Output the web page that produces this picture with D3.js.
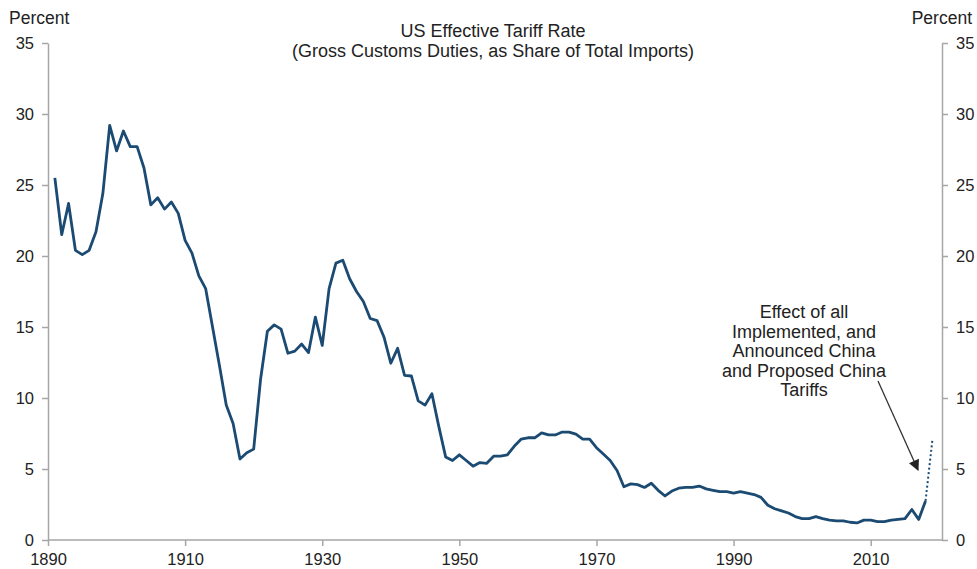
<!DOCTYPE html>
<html lang="en">
<head>
<meta charset="utf-8">
<title>US Effective Tariff Rate</title>
<script src="https://cdn.jsdelivr.net/npm/d3@7"></script>
<style>
  body { margin: 0; background: #fff; }
  text { font-family: "Liberation Sans", Arial, sans-serif; fill: #222; }
  .axis path, .axis line { stroke: #a6a6a6; stroke-width: 1.5; }
  .axis text { font-size: 16.5px; fill: #222; font-family: "Liberation Sans", Arial, sans-serif; }
</style>
</head>
<body>
<script>
// annual values, 1891-2018
var startYear = 1891;
var tariff = [
  25.5, 21.5, 23.7, 20.4, 20.1, 20.4, 21.7, 24.4, 29.2, 27.4,
  28.8, 27.7, 27.7, 26.2, 23.6, 24.1, 23.3, 23.8, 23.0, 21.1,
  20.2, 18.6, 17.7, 15.0, 12.3, 9.5, 8.2, 5.7, 6.15, 6.4,
  11.3, 14.7, 15.15, 14.85, 13.15, 13.3, 13.8, 13.2, 15.7, 13.7,
  17.7, 19.5, 19.7, 18.4, 17.5, 16.8, 15.6, 15.45, 14.3, 12.45,
  13.5, 11.6, 11.55, 9.8, 9.5, 10.3, 8.0, 5.85, 5.6, 6.0,
  5.6, 5.2, 5.45, 5.4, 5.9, 5.9, 6.0, 6.6, 7.1, 7.2,
  7.2, 7.55, 7.4, 7.4, 7.6, 7.6, 7.45, 7.1, 7.1, 6.5,
  6.05, 5.6, 4.9, 3.75, 3.95, 3.9, 3.7, 4.0, 3.5, 3.1,
  3.45, 3.65, 3.7, 3.7, 3.8, 3.6, 3.5, 3.4, 3.4, 3.3,
  3.4, 3.3, 3.2, 3.0, 2.45, 2.2, 2.05, 1.9, 1.65, 1.5,
  1.5, 1.65, 1.5, 1.4, 1.35, 1.35, 1.25, 1.2, 1.4, 1.4,
  1.3, 1.3, 1.4, 1.45, 1.5, 2.15, 1.45, 2.75
];
// projected effect of China tariffs (dotted)
var projYears = [2018, 2019];
var projValues = [2.75, 7.05];

var xTicks = [1890, 1910, 1930, 1950, 1970, 1990, 2010];
var yTicks = [0, 5, 10, 15, 20, 25, 30, 35];
var titleLines = ["US Effective Tariff Rate", "(Gross Customs Duties, as Share of Total Imports)"];
var noteLines = ["Effect of all", "Implemented, and", "Announced China", "and Proposed China", "Tariffs"];

var w = 977, h = 569;
// plot edges (avoid "top", which is a window property)
var pLeft = 48, pRight = 942, pTop = 43, pBottom = 540;

var series = tariff.map(function(v, i) { return { year: startYear + i, value: v }; });
var proj = projYears.map(function(yr, i) { return { year: yr, value: projValues[i] }; });

var x = d3.scaleLinear().domain([1890, 2020.4]).range([pLeft, pRight]);
var y = d3.scaleLinear().domain([0, 35]).range([pBottom, pTop]);

var svg = d3.select("body").append("svg")
  .attr("width", w)
  .attr("height", h);

// axes
svg.append("g").attr("class", "axis")
  .attr("transform", "translate(" + pLeft + ",0)")
  .call(d3.axisLeft(y).tickValues(yTicks).tickSize(6).tickSizeOuter(0).tickPadding(8));
svg.append("g").attr("class", "axis")
  .attr("transform", "translate(" + pRight + ",0)")
  .call(d3.axisRight(y).tickValues(yTicks).tickSize(6).tickSizeOuter(0).tickPadding(8));
var xAxis = svg.append("g").attr("class", "axis")
  .attr("transform", "translate(0," + pBottom + ")")
  .call(d3.axisBottom(x).tickValues(xTicks).tickFormat(d3.format("d")).tickSize(6).tickSizeOuter(0).tickPadding(7));
xAxis.select(".domain").attr("d", "M" + pLeft + ",0H" + pRight);

// unit labels
svg.append("text").attr("x", 9).attr("y", 24).style("font-size", "17.5px").text("Percent");
svg.append("text").attr("x", 972).attr("y", 24).attr("text-anchor", "end").style("font-size", "17.5px").text("Percent");

// title
svg.selectAll(".title")
  .data(titleLines)
  .enter()
  .append("text")
  .attr("class", "title")
  .attr("x", 493)
  .attr("y", function(d, i) { return 37 + i * 20; })
  .attr("text-anchor", "middle")
  .style("font-size", "18px")
  .text(function(d) { return d; });

var line = d3.line()
  .x(function(d) { return x(d.year); })
  .y(function(d) { return y(d.value); });

svg.append("path")
  .datum(series)
  .attr("d", line)
  .attr("fill", "none")
  .attr("stroke", "#1b4a72")
  .attr("stroke-width", 2.8)
  .attr("stroke-linejoin", "round");

svg.append("path")
  .datum(proj)
  .attr("d", line)
  .attr("fill", "none")
  .attr("stroke", "#1b4a72")
  .attr("stroke-width", 2)
  .attr("stroke-dasharray", "2,2.5");

// annotation
svg.selectAll(".note")
  .data(noteLines)
  .enter()
  .append("text")
  .attr("class", "note")
  .attr("x", 804)
  .attr("y", function(d, i) { return 318 + i * 19.6; })
  .attr("text-anchor", "middle")
  .style("font-size", "18px")
  .text(function(d) { return d; });

svg.append("defs").append("marker")
  .attr("id", "arrow")
  .attr("viewBox", "0 0 10 10")
  .attr("refX", 9).attr("refY", 5)
  .attr("markerWidth", 12).attr("markerHeight", 11)
  .attr("markerUnits", "userSpaceOnUse")
  .attr("orient", "auto")
  .append("path")
  .attr("d", "M0,0L10,5L0,10z")
  .attr("fill", "#222");

svg.append("line")
  .attr("x1", 878).attr("y1", 381)
  .attr("x2", 918).attr("y2", 470)
  .attr("stroke", "#333")
  .attr("stroke-width", 1.3)
  .attr("marker-end", "url(#arrow)");
</script>
</body>
</html>
